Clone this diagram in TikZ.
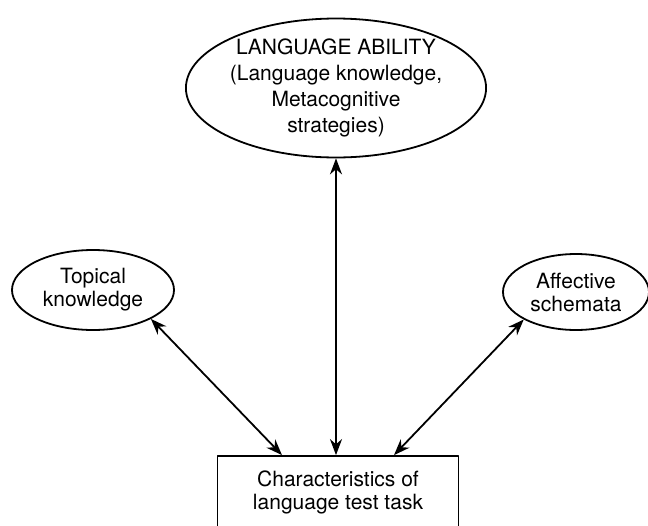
\documentclass[tikz,border=0pt]{standalone}
\usepackage{fontspec}
\setmainfont{TeX Gyre Heros}
\usetikzlibrary{arrows.meta,shapes.geometric}
\begin{document}
\begin{tikzpicture}[x=1pt, y=-1pt, >={Stealth[length=16pt,width=12pt]}, line join=round, every node/.style={font=\fontsize{21}{23}\selectfont, align=center}, oval/.style={draw, ellipse, line width=1.8pt, inner sep=0pt}, link/.style={<->, line width=1.8pt}]
		
		\clip (0,0) rectangle (648,525);
		
		\node[oval, minimum width=280pt, minimum height=132pt, font=\fontsize{21}{26}\selectfont] (ability) at (336,88) {LANGUAGE ABILITY\\(Language knowledge,\\Metacognitive\\strategies)};
		\node[oval, minimum width=162pt, minimum height=80pt] (topical) at (93,290) {Topical\\knowledge};
		\node[oval, minimum width=146pt, minimum height=76pt] (affective) at (576,292) {Affective\\schemata};
		\node[draw, line width=1.8pt, minimum width=241pt, minimum height=72pt] (task) at (338,492) {Characteristics of\\language test task};
		
		\draw[link] (ability.south) -- (ability.south |- task.north);
		\draw[link] (topical.south east) -- ([xshift=-56pt]task.north);
		\draw[link] (affective.south west) -- ([xshift=56pt]task.north);
		
	\end{tikzpicture}
\end{document}
